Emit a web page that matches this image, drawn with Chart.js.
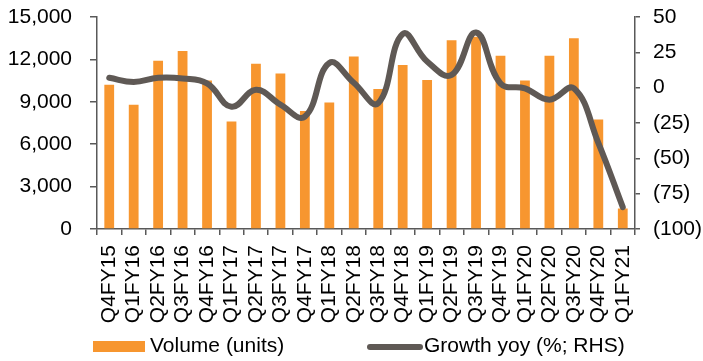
<!DOCTYPE html>
<html>
<head>
<meta charset="utf-8">
<script src="https://cdn.jsdelivr.net/npm/chart.js@4.4.1/dist/chart.umd.min.js"></script>
<style>
  html, body { margin: 0; padding: 0; background: #fff; }
</style>
</head>
<body>
<canvas id="graphCanvas" width="703" height="361"></canvas>
<script>
// quarterly volumes (units) and yoy growth (%)
var quarters = ['Q4FY15', 'Q1FY16', 'Q2FY16', 'Q3FY16', 'Q4FY16', 'Q1FY17', 'Q2FY17', 'Q3FY17',
    'Q4FY17', 'Q1FY18', 'Q2FY18', 'Q3FY18', 'Q4FY18', 'Q1FY19', 'Q2FY19', 'Q3FY19',
    'Q4FY19', 'Q1FY20', 'Q2FY20', 'Q3FY20', 'Q4FY20', 'Q1FY21'];
var volume = [10200, 8800, 11900, 12600, 10500, 7600, 11700, 11000,
    8350, 8950, 12200, 9900, 11600, 10550, 13350, 13600,
    12250, 10500, 12250, 13500, 7750, 1450];
var growth = [7, 4, 7, 6.5, 3, -13.5, -1.5, -12,
    -20.5, 17.5, 3.5, -11, 38, 18.5, 9, 39,
    3, -0.5, -8.5, -0.5, -39, -84.5];
var volumeTicks = [0, 3000, 6000, 9000, 12000, 15000];
var growthTicks = [-100, -75, -50, -25, 0, 25, 50];

var orange = '#f7962f';
var grey = '#5f5955';
var axisColor = '#595959';
var fontFamily = "'Liberation Sans', Arial, sans-serif";

Chart.defaults.font.family = fontFamily;
Chart.defaults.font.size = 21;
Chart.defaults.color = '#000';

// legend drawn underneath the axes, same look as the original
var bottomLegend = {
    id: 'bottomLegend',
    afterDraw: function(chart) {
        var ctx = chart.ctx;
        var bars = chart.data.datasets[1];
        var line = chart.data.datasets[0];
        ctx.save();
        ctx.font = '21px ' + fontFamily;
        ctx.textBaseline = 'alphabetic';

        ctx.fillStyle = bars.backgroundColor;
        ctx.fillRect(93, 341, 52, 11);
        ctx.fillStyle = '#000';
        ctx.fillText(bars.label, 150, 352);

        ctx.strokeStyle = line.borderColor;
        ctx.lineWidth = 6;
        ctx.lineCap = 'round';
        ctx.beginPath();
        ctx.moveTo(370, 347);
        ctx.lineTo(420, 347);
        ctx.stroke();
        ctx.fillStyle = '#000';
        ctx.fillText(line.label, 424, 352);
        ctx.restore();
    }
};

// keep the plot box where the original has it
function fixWidth(w) {
    return function(axis) {
        axis.width = w;
        axis.paddingTop = 0;
        axis.paddingBottom = 0;
    };
}

var chartdata = {
    labels: quarters,
    datasets: [{
        type: 'line',
        label: 'Growth yoy (%; RHS)',
        data: growth,
        yAxisID: 'y1',
        borderColor: grey,
        borderWidth: 6,
        tension: 0.42,
        pointRadius: 0,
        borderCapStyle: 'round',
        borderJoinStyle: 'round',
        order: 0
    }, {
        type: 'bar',
        label: 'Volume (units)',
        data: volume,
        yAxisID: 'y',
        backgroundColor: orange,
        barPercentage: 0.4,
        categoryPercentage: 1,
        order: 1
    }]
};

var graphTarget = document.getElementById('graphCanvas');

var barGraph = new Chart(graphTarget, {
    data: chartdata,
    plugins: [bottomLegend],
    options: {
        responsive: false,
        animation: false,
        devicePixelRatio: 1,
        layout: { padding: { left: 8, right: 1, top: 17, bottom: 37 } },
        plugins: {
            legend: { display: false },
            tooltip: { enabled: false }
        },
        scales: {
            x: {
                offset: true,
                afterFit: function(axis) {
                    axis.height = 95;
                    axis.paddingLeft = 0;
                    axis.paddingRight = 0;
                },
                grid: { drawOnChartArea: false, tickLength: 6, color: axisColor, offset: true, lineWidth: 1.5 },
                border: { color: axisColor, width: 1.5 },
                ticks: { autoSkip: false, minRotation: 90, maxRotation: 90, padding: 10 }
            },
            y: {
                position: 'left',
                min: 0,
                max: 15000,
                afterBuildTicks: function(axis) {
                    axis.ticks = volumeTicks.map(function(v) { return { value: v }; });
                },
                afterFit: fixWidth(89),
                grid: { drawOnChartArea: false, tickLength: 7, color: axisColor, lineWidth: 1.5 },
                border: { color: axisColor, width: 1.5 },
                ticks: {
                    padding: 18,
                    callback: function(v) { return v.toLocaleString('en-US'); }
                }
            },
            y1: {
                position: 'right',
                min: -100,
                max: 50,
                afterBuildTicks: function(axis) {
                    axis.ticks = growthTicks.map(function(v) { return { value: v }; });
                },
                afterFit: fixWidth(67),
                grid: { drawOnChartArea: false, tickLength: 5, color: axisColor, lineWidth: 1.5 },
                border: { color: axisColor, width: 1.5 },
                ticks: {
                    padding: 13,
                    callback: function(v) { return v < 0 ? '(' + (-v) + ')' : String(v); }
                }
            }
        }
    }
});
</script>
</body>
</html>
